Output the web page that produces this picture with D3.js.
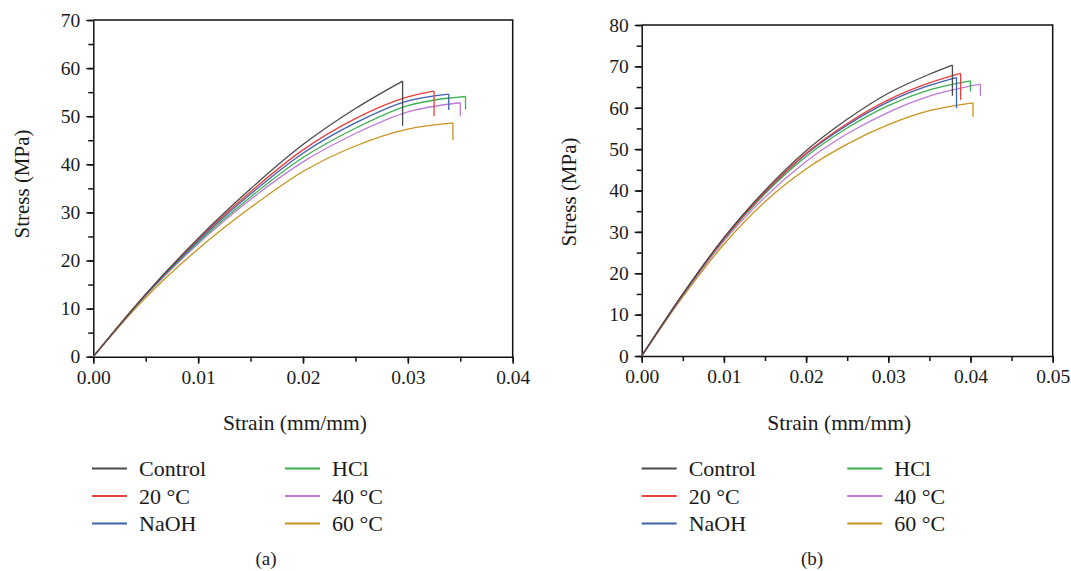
<!DOCTYPE html>
<html>
<head>
<meta charset="utf-8">
<script src="https://cdn.jsdelivr.net/npm/d3@7"></script>
<style>
  body { margin: 0; background: #fff; }
  svg text { font-family: "Liberation Serif", "Times New Roman", "DejaVu Serif", serif; fill: #1a1a1a; }
</style>
</head>
<body>
<div id="chart"></div>
<script>
let svgWidth = 1071;
let svgHeight = 571;
let fontStack = '"Liberation Serif", "Times New Roman", "DejaVu Serif", serif';

// series
let seriesNames = ["Control", "20 °C", "NaOH", "HCl", "40 °C", "60 °C"];
let seriesColors = ["#4a4a4a", "#e8403a", "#3f5fb0", "#3daf50", "#c07ad8", "#c9921a"];

// panel (a)
let strainA = [0, 0.005, 0.01, 0.015, 0.02, 0.025, 0.03];
let stressA = [
  [0, 13.0, 24.6, 34.9, 44.1, 51.6],
  [0, 13.0, 24.4, 34.3, 43.0, 49.5, 54.0],
  [0, 12.9, 24.1, 33.8, 42.3, 48.6, 53.2],
  [0, 12.8, 23.8, 33.2, 41.4, 47.5, 52.2],
  [0, 12.7, 23.5, 32.7, 40.5, 46.4, 50.9],
  [0, 12.3, 22.4, 31.0, 38.5, 43.8, 47.3]
];
let failStrainA = [0.0295, 0.0325, 0.0339, 0.0355, 0.0350, 0.0343];
let peakStressA = [57.3, 55.2, 54.6, 54.1, 52.8, 48.6];
let dropStressA = [48.0, 50.0, 51.3, 51.4, 50.0, 45.0];
let xTicksA = [0, 0.01, 0.02, 0.03, 0.04];
let yTicksA = [0, 10, 20, 30, 40, 50, 60, 70];

// panel (b)
let strainB = [0, 0.005, 0.01, 0.015, 0.02, 0.025, 0.03, 0.035];
let stressB = [
  [0, 15.0, 28.6, 40.0, 49.6, 57.2, 63.5, 68.1],
  [0, 14.9, 28.4, 39.6, 49.0, 56.2, 61.9, 66.0],
  [0, 14.9, 28.4, 39.5, 48.8, 55.8, 61.4, 65.4],
  [0, 14.8, 28.2, 39.2, 48.2, 55.1, 60.5, 64.3],
  [0, 14.6, 27.8, 38.4, 47.0, 53.7, 58.9, 62.8],
  [0, 14.3, 27.0, 37.3, 45.2, 51.2, 55.9, 59.3]
];
let failStrainB = [0.0378, 0.0388, 0.0383, 0.0400, 0.0412, 0.0403];
let peakStressB = [70.3, 68.3, 67.3, 66.5, 65.7, 61.2];
let dropStressB = [62.9, 61.9, 59.9, 63.9, 62.9, 57.8];
let xTicksB = [0, 0.01, 0.02, 0.03, 0.04, 0.05];
let yTicksB = [0, 10, 20, 30, 40, 50, 60, 70, 80];

let svg = d3.select("#chart")
  .append("svg")
  .attr("width", svgWidth)
  .attr("height", svgHeight);

function drawPanel(p) {
  let x = d3.scaleLinear().domain([0, d3.max(p.xTicks)]).range([p.left, p.right]);
  let y = d3.scaleLinear().domain([0, d3.max(p.yTicks)]).range([p.bottom, p.top]);

  let g = svg.append("g");

  // frame (top + right)
  g.append("path")
    .attr("d", `M${p.left},${p.top}H${p.right}V${p.bottom}`)
    .attr("fill", "none")
    .attr("stroke", "#111")
    .attr("stroke-width", 1.5);

  let xMinor = d3.range(0, d3.max(p.xTicks) + 1e-9, 0.005);
  let yMinor = d3.range(0, d3.max(p.yTicks) + 1e-9, 5);

  // minor ticks
  g.append("g")
    .attr("transform", `translate(0,${p.bottom})`)
    .call(d3.axisBottom(x).tickValues(xMinor).tickSize(5).tickFormat(""))
    .call(a => a.select(".domain").remove())
    .call(a => a.selectAll("line").attr("stroke", "#111").attr("stroke-width", 1.5));
  g.append("g")
    .attr("transform", `translate(${p.left},0)`)
    .call(d3.axisLeft(y).tickValues(yMinor).tickSize(5).tickFormat(""))
    .call(a => a.select(".domain").remove())
    .call(a => a.selectAll("line").attr("stroke", "#111").attr("stroke-width", 1.5));

  // major axes
  let xAxis = g.append("g")
    .attr("transform", `translate(0,${p.bottom})`)
    .call(d3.axisBottom(x).tickValues(p.xTicks).tickSize(7).tickPadding(6).tickSizeOuter(0).tickFormat(d3.format(".2f")));
  let yAxis = g.append("g")
    .attr("transform", `translate(${p.left},0)`)
    .call(d3.axisLeft(y).tickValues(p.yTicks).tickSize(7).tickPadding(6).tickSizeOuter(0));
  [xAxis, yAxis].forEach(a => {
    a.attr("font-family", fontStack);
    a.select(".domain").attr("stroke", "#111").attr("stroke-width", 1.5);
    a.selectAll("line").attr("stroke", "#111").attr("stroke-width", 1.5);
    a.selectAll("text").attr("font-size", 19.5).attr("fill", "#1a1a1a");
  });

  // curves
  let line = d3.line().x(d => x(d[0])).y(d => y(d[1])).curve(d3.curveMonotoneX);
  let drop = d3.line().x(d => x(d[0])).y(d => y(d[1]));
  for (let i = seriesNames.length - 1; i >= 0; i--) {
    let pts = p.stress[i].map((v, j) => [p.strain[j], v]);
    pts.push([p.fail[i], p.peak[i]]);
    g.append("path")
      .attr("d", line(pts))
      .attr("fill", "none")
      .attr("stroke", seriesColors[i])
      .attr("stroke-width", 1.3);
    g.append("path")
      .attr("d", drop([[p.fail[i], p.peak[i]], [p.fail[i], p.drop[i]]]))
      .attr("fill", "none")
      .attr("stroke", seriesColors[i])
      .attr("stroke-width", 1.3);
  }

  // axis titles
  g.append("text")
    .attr("x", (p.left + p.right) / 2 - 8)
    .attr("y", 430)
    .attr("text-anchor", "middle")
    .attr("font-size", 21.5)
    .text("Strain (mm/mm)");
  g.append("text")
    .attr("transform", `translate(${p.yTitleX},${p.yTitleY}) rotate(-90)`)
    .attr("text-anchor", "middle")
    .attr("dy", "0.35em")
    .attr("font-size", 21)
    .text("Stress (MPa)");

  // legend
  let rows = [468.5, 496, 523.5];
  seriesNames.forEach((name, i) => {
    let col = Math.floor(i / 3);
    let lx = col === 0 ? p.legX1 : p.legX2;
    let ly = rows[i % 3];
    g.append("line")
      .attr("x1", lx).attr("x2", lx + 35)
      .attr("y1", ly).attr("y2", ly)
      .attr("stroke", seriesColors[i])
      .attr("stroke-width", 2);
    g.append("text")
      .attr("x", lx + 47)
      .attr("y", ly)
      .attr("dy", "0.35em")
      .attr("font-size", 22)
      .text(name);
  });

  g.append("text")
    .attr("x", p.labelX)
    .attr("y", 565)
    .attr("text-anchor", "middle")
    .attr("font-size", 19)
    .text(p.label);
}

drawPanel({
  left: 93.3, right: 512.7, top: 20, bottom: 356.7,
  xTicks: xTicksA, yTicks: yTicksA,
  strain: strainA, stress: stressA,
  fail: failStrainA, peak: peakStressA, drop: dropStressA,
  yTitleX: 22, yTitleY: 184,
  legX1: 92, legX2: 285, labelX: 266, label: "(a)"
});

drawPanel({
  left: 641.7, right: 1052.7, top: 25, bottom: 356,
  xTicks: xTicksB, yTicks: yTicksB,
  strain: strainB, stress: stressB,
  fail: failStrainB, peak: peakStressB, drop: dropStressB,
  yTitleX: 569, yTitleY: 192,
  legX1: 641.7, legX2: 847.3, labelX: 812, label: "(b)"
});
</script>
</body>
</html>
